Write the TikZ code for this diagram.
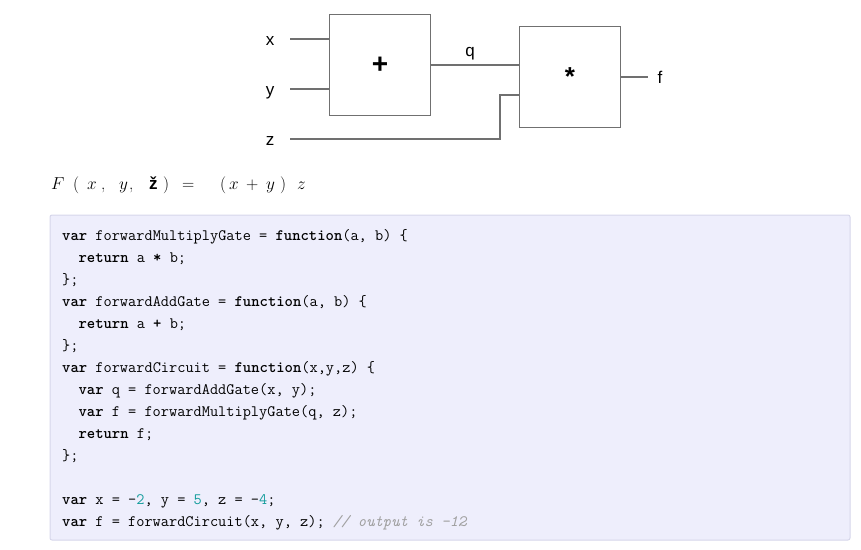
\documentclass[tikz,border=0pt]{standalone}
\usepackage{fontspec}
\setsansfont{Liberation Sans}
\definecolor{wiregray}{HTML}{707070}
\definecolor{codebg}{HTML}{EEEEFC}
\definecolor{codeframe}{HTML}{D6D6EA}
\definecolor{numteal}{HTML}{139C9C}
\definecolor{cmtgray}{HTML}{A0A0A0}
\newcommand{\kw}[1]{\textbf{#1}}
\newcommand{\num}[1]{\textcolor{numteal}{#1}}
\tikzset{
  gate/.style={draw=wiregray, line width=1.6pt, minimum size=101pt, inner sep=0pt, font=\sffamily\bfseries\fontsize{28}{28}\selectfont},
  wire/.style={draw=wiregray, line width=1.6pt},
  wirelabel/.style={font=\sffamily\fontsize{17}{17}\selectfont, inner sep=0pt},
  formpart/.style={anchor=base west, inner sep=0pt, font=\fontsize{17}{17}\selectfont},
  codeline/.style={anchor=base west, inner sep=0pt, font=\ttfamily\fontsize{15.9}{22}\selectfont}
}
\begin{document}
\begin{tikzpicture}[x=1pt, y=-1pt]
\useasboundingbox (0,0) rectangle (861,549);

% gates
\node[gate] (add) at (380,65) {+};
\node[gate, font=\sffamily\bfseries\fontsize{26}{26}\selectfont] (mul) at (570,77) {*};

% inputs
\node[wirelabel, anchor=base] (inx) at (270,45) {x};
\node[wirelabel, anchor=base] (iny) at (270,95) {y};
\node[wirelabel, anchor=base] (inz) at (270,145) {z};
\coordinate (zbend) at (500,139);
\draw[wire] (290,39) -- (add.west |- 290,39);
\draw[wire] (290,89) -- (add.west |- 290,89);
\draw[wire] (290,139) -- (zbend) |- (mul.west |- 0,95);

% output of add gate
\draw[wire] (add.east) -- (mul.west |- add.east);
\node[wirelabel, anchor=base] (q) at (470,56) {q};

% output of mul gate
\node[wirelabel, anchor=base] (outf) at (660,83) {f};
\draw[wire] (mul.east) -- (648,77);

% formula, one piece at a time
\foreach \px/\sym in {51/$F$, 73/(, 87/$x$, 101/{,}, 119/$y$, 129/{,},
    149/{\sffamily\bfseries ž}, 163/), 182/=, 220/(, 229/$x$, 246/+, 266/$y$, 280/), 297/$z$} {
  \node[formpart] (fp\px) at (\px,189) {\sym};
}

% code box
\draw[fill=codebg, draw=codeframe, line width=1pt, rounded corners=2pt] (50,215) rectangle (850,540);
\def\lsep{22}
\node[codeline] (c1) at (62,240+0*\lsep) {\kw{var} forwardMultiplyGate = \kw{function}(a, b) \{};
\node[codeline] (c2) at (62,240+1*\lsep) {\ \ \kw{return} a \kw{*} b;};
\node[codeline] (c3) at (62,240+2*\lsep) {\};};
\node[codeline] (c4) at (62,240+3*\lsep) {\kw{var} forwardAddGate = \kw{function}(a, b) \{};
\node[codeline] (c5) at (62,240+4*\lsep) {\ \ \kw{return} a \kw{+} b;};
\node[codeline] (c6) at (62,240+5*\lsep) {\};};
\node[codeline] (c7) at (62,240+6*\lsep) {\kw{var} forwardCircuit = \kw{function}(x,y,z) \{};
\node[codeline] (c8) at (62,240+7*\lsep) {\ \ \kw{var} q = forwardAddGate(x, y);};
\node[codeline] (c9) at (62,240+8*\lsep) {\ \ \kw{var} f = forwardMultiplyGate(q, z);};
\node[codeline] (c10) at (62,240+9*\lsep) {\ \ \kw{return} f;};
\node[codeline] (c11) at (62,240+10*\lsep) {\};};
\node[codeline] (c12) at (62,240+12*\lsep) {\kw{var} x = -\num{2}, y = \num{5}, z = -\num{4};};
\node[codeline] (c13) at (62,240+13*\lsep) {\kw{var} f = forwardCircuit(x, y, z); \textcolor{cmtgray}{\itshape // output is -12}};

\end{tikzpicture}
\end{document}
